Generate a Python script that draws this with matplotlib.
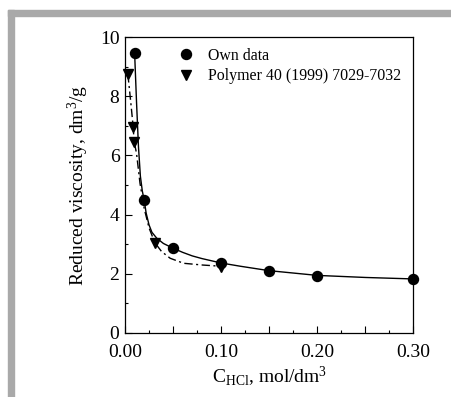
import numpy as np
import matplotlib
matplotlib.use('Agg')
import matplotlib.pyplot as plt
from matplotlib.ticker import MultipleLocator, FuncFormatter
from matplotlib.patches import Rectangle

plt.rcParams['font.family'] = 'Liberation Serif'
plt.rcParams['mathtext.fontset'] = 'custom'
plt.rcParams['mathtext.rm'] = 'Liberation Serif'
plt.rcParams['mathtext.it'] = 'Liberation Serif:italic'

# Own data (circles)
own_c = [0.01, 0.02, 0.05, 0.10, 0.15, 0.20, 0.30]
own_visc = [9.48, 4.48, 2.86, 2.36, 2.10, 1.92, 1.82]

# Polymer 40 (1999) 7029-7032 (triangles)
lit_c = [0.003, 0.0085, 0.0095, 0.031, 0.10]
lit_visc = [8.75, 6.97, 6.47, 3.05, 2.23]

# curves
fit_own_c = [0.010, 0.012, 0.014, 0.016, 0.018, 0.020, 0.022, 0.025, 0.028,
             0.033, 0.040, 0.050, 0.060, 0.070, 0.080, 0.100, 0.120, 0.150,
             0.200, 0.250, 0.300]
fit_own_visc = [9.48, 7.8, 6.3, 5.3, 4.8, 4.48, 4.05, 3.65, 3.4,
                3.2, 3.02, 2.86, 2.72, 2.6, 2.51, 2.36, 2.25, 2.10,
                1.94, 1.87, 1.82]
fit_lit_c = [0.003, 0.006, 0.0085, 0.0095, 0.012, 0.0156, 0.020, 0.025,
             0.031, 0.038, 0.047, 0.061, 0.081, 0.100]
fit_lit_visc = [8.75, 7.8, 6.97, 6.47, 6.07, 5.06, 4.2, 3.55,
                3.05, 2.75, 2.52, 2.35, 2.29, 2.25]

fig = plt.figure(figsize=(4.52, 3.97), dpi=100)
W, H = 452, 397

# grey frame on top and left
fig.patches.append(Rectangle((8 / W, 0), 6 / W, (H - 10) / H, transform=fig.transFigure,
                             color='#a9a9a9', zorder=0))
fig.patches.append(Rectangle((8 / W, (H - 16) / H), (W - 8) / W, 6 / H, transform=fig.transFigure,
                             color='#a9a9a9', zorder=0))

ax = fig.add_axes([125 / W, (H - 332.7) / H, (413.3 - 125) / W, (332.7 - 37.3) / H])

ax.plot(fit_own_c, fit_own_visc, '-', color='black', lw=1.0)
ax.plot(fit_lit_c, fit_lit_visc, color='black', lw=1.0, dashes=(6, 2.5, 1.5, 2.5))
ax.plot(own_c, own_visc, 'o', color='black', ms=7.2, ls='none', label='Own data', clip_on=False)
ax.plot(lit_c, lit_visc, 'v', color='black', ms=7.5, ls='none',
        label='Polymer 40 (1999) 7029-7032', clip_on=False)

ax.set_xlim(0, 0.30)
ax.set_ylim(0, 10)
ax.xaxis.set_major_locator(MultipleLocator(0.05))
ax.xaxis.set_minor_locator(MultipleLocator(0.025))
ax.xaxis.set_major_formatter(FuncFormatter(
    lambda v, p: f'{v:.2f}' if abs(round(v / 0.1) * 0.1 - v) < 1e-6 else ''))
ax.yaxis.set_major_locator(MultipleLocator(2))
ax.yaxis.set_minor_locator(MultipleLocator(1))
ax.tick_params(which='both', direction='in', labelsize=14, width=0.8)
ax.tick_params(which='major', length=5)
ax.tick_params(axis='x', which='major', pad=8)
ax.tick_params(axis='y', which='major', pad=4)
ax.tick_params(which='minor', length=2.5)
for s in ax.spines.values():
    s.set_linewidth(0.9)

ax.set_xlabel(r'C$_{\mathrm{HCl}}$, mol/dm$^{3}$', fontsize=14, labelpad=3)
ax.set_ylabel(r'Reduced viscosity, dm$^{3}$/g', fontsize=14, labelpad=6)

ax.legend(loc='upper left', bbox_to_anchor=(0.15, 1.0), frameon=False, fontsize=11.4,
          handlelength=1.0, handletextpad=0.83, labelspacing=0.3, borderaxespad=0.25)

fig.savefig('out.png', dpi=100)
